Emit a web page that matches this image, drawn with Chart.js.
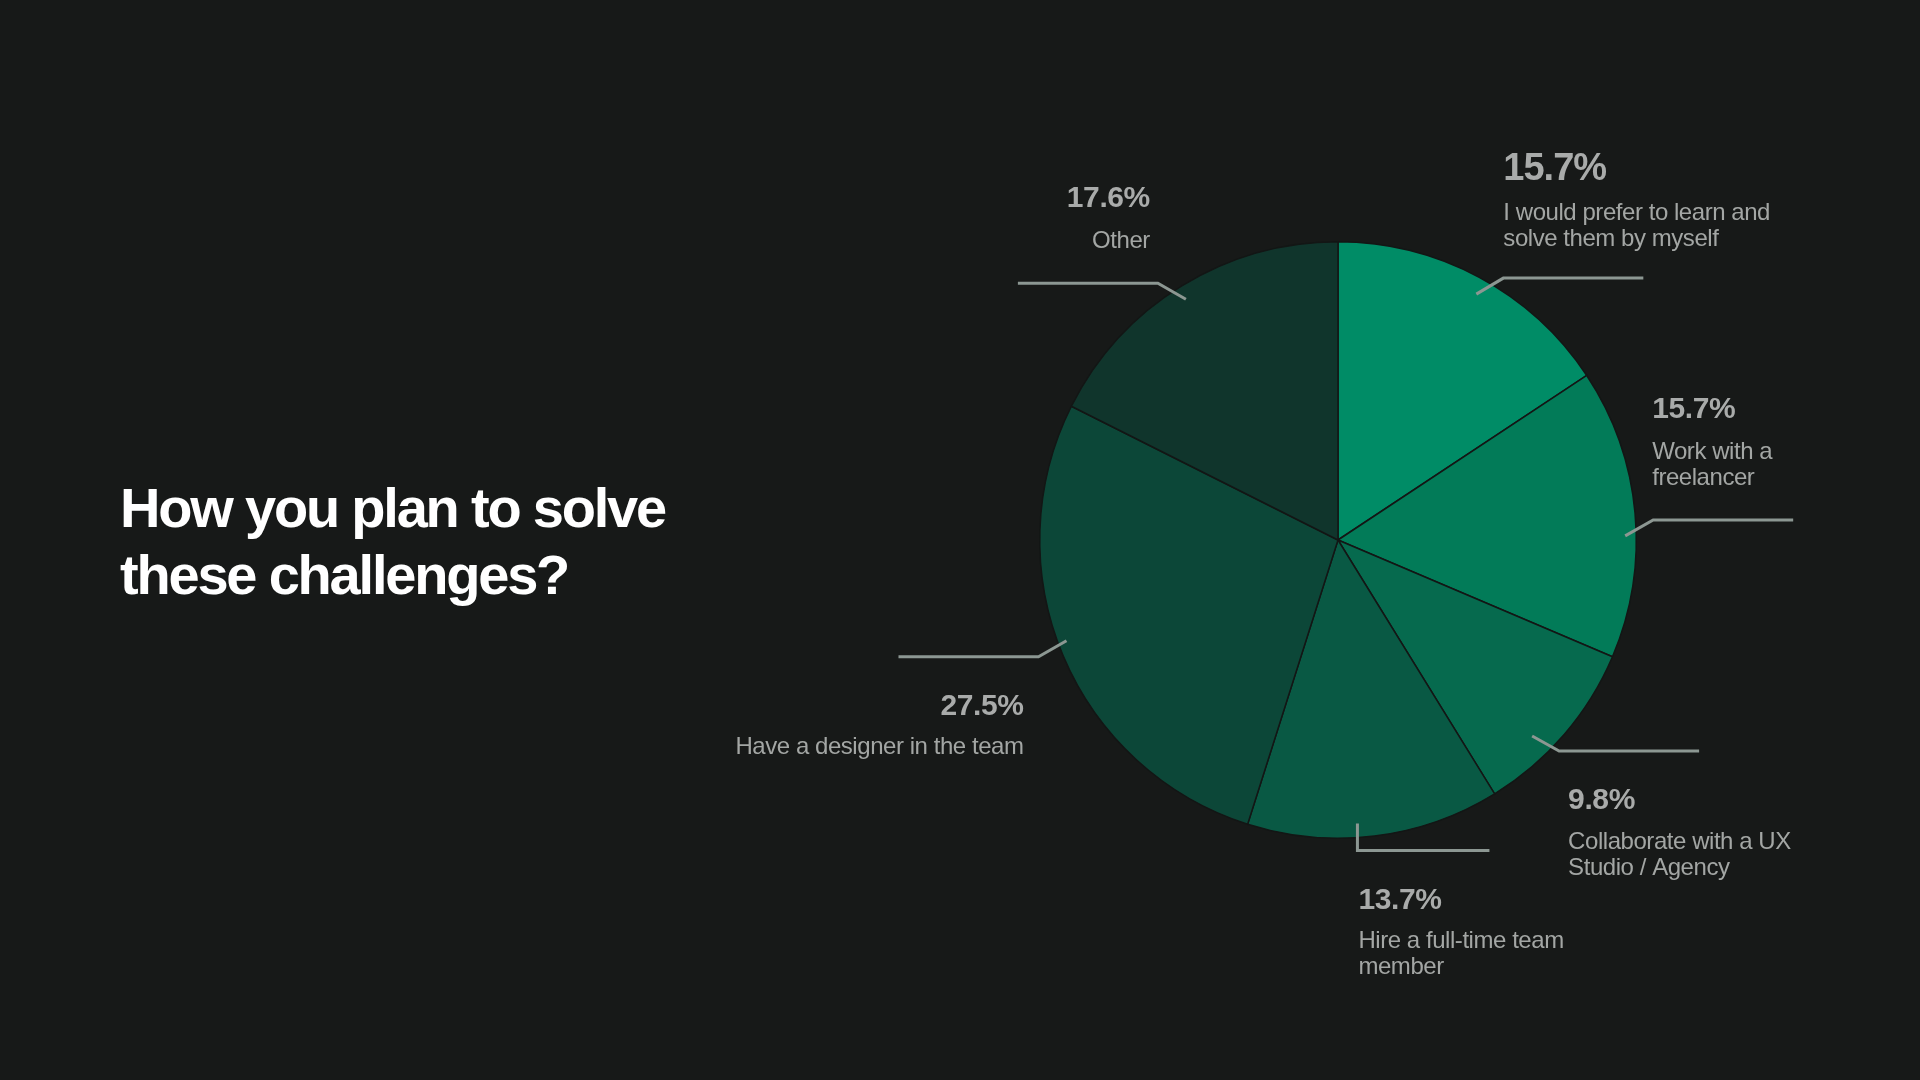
<!DOCTYPE html>
<html>
<head>
<meta charset="utf-8">
<title>How you plan to solve these challenges?</title>
<script src="https://cdn.jsdelivr.net/npm/chart.js@4.4.1/dist/chart.umd.min.js"></script>
<style>
  html, body { margin: 0; padding: 0; background: #171918; }
  body { width: 1920px; height: 1080px; position: relative; overflow: hidden; }
  #title {
    position: absolute; left: 120px; top: 474px; margin: 0;
    font-family: "Liberation Sans", Arial, sans-serif;
    font-weight: bold; font-size: 56px; line-height: 67px;
    letter-spacing: -2.2px; color: #ffffff;
  }
  #chart { position: absolute; left: 0; top: 0; }
</style>
</head>
<body>
<h1 id="title">How you plan to solve<br>these challenges?</h1>
<canvas id="chart" width="1920" height="1080"></canvas>
<script>
// answers, clockwise from 12 o'clock
var categories = [
  "I would prefer to learn and solve them by myself",
  "Work with a freelancer",
  "Collaborate with a UX Studio / Agency",
  "Hire a full-time team member",
  "Have a designer in the team",
  "Other"
];
var percentages = [15.7, 15.7, 9.8, 13.7, 27.5, 17.6];

// how the label text wraps
var labelLines = [
  ["I would prefer to learn and", "solve them by myself"],
  ["Work with a", "freelancer"],
  ["Collaborate with a UX", "Studio / Agency"],
  ["Hire a full-time team", "member"],
  ["Have a designer in the team"],
  ["Other"]
];

var sliceColors = ["#008c66", "#027b58", "#066a4e", "#095944", "#0c4738", "#10352c"];

// leader line style per slice: angle shift (deg), radius factor, elbow, horizontal run, text side
var leaders = [
  { shift: 1.1, rf: 0.946, ex: 27, ey: -16, len: 140, side: "above", tx: 0, big: true },
  { shift: 4.4, rf: 0.963, ex: 28, ey: -16, len: 140, side: "above", tx: -1 },
  { shift: 4.6, rf: 0.925, ex: 27, ey: 15, len: 140, side: "below", tx: 9 },
  { shift: 3.1, rf: 0.953, ex: 0, ey: 27, len: 132, side: "below", tx: 1 },
  { shift: 2.5, rf: 0.971, ex: -28, ey: 16, len: -140, side: "below", tx: -15 },
  { shift: -0.6, rf: 0.955, ex: -28, ey: -16, len: -140, side: "above", tx: -8 }
];

var FONT = '"Liberation Sans", Arial, sans-serif';

var calloutPlugin = {
  id: "callouts",
  afterDatasetsDraw: function (chart) {
    var ctx = chart.ctx;
    var meta = chart.getDatasetMeta(0);
    ctx.save();
    meta.data.forEach(function (arc, i) {
      var p = arc.getProps(["x", "y", "startAngle", "endAngle", "outerRadius"], true);
      var l = leaders[i];
      var a = (p.startAngle + p.endAngle) / 2 + l.shift * Math.PI / 180;
      var r = p.outerRadius * l.rf;
      var sx = p.x + r * Math.cos(a);
      var sy = p.y + r * Math.sin(a);
      var ex = sx + l.ex;
      var ey = sy + l.ey;

      ctx.strokeStyle = "#8c9792";
      ctx.lineWidth = 3;
      ctx.beginPath();
      ctx.moveTo(sx, sy);
      ctx.lineTo(ex, ey);
      ctx.lineTo(ex + l.len, ey);
      ctx.stroke();

      var tx = ex + l.tx;
      ctx.textAlign = l.len > 0 ? "left" : "right";
      ctx.textBaseline = "middle";
      var lines = labelLines[i];
      var pct = percentages[i].toFixed(1) + "%";
      var firstY, pctY;
      if (l.side === "above") {
        firstY = ey - (l.big ? 39 : 42) - (lines.length - 1) * 26;
        pctY = firstY - (l.big ? 44 : 42);
      } else {
        pctY = ey + 50;
        firstY = pctY + 41;
      }

      ctx.fillStyle = "#a9abaa";
      ctx.font = "bold " + (l.big ? 38 : 30) + "px " + FONT;
      ctx.letterSpacing = l.big ? "-1px" : "-0.4px";
      ctx.fillText(pct, tx, pctY);

      ctx.fillStyle = "#a3a6a4";
      ctx.font = "24px " + FONT;
      ctx.letterSpacing = "-0.45px";
      lines.forEach(function (t, k) {
        ctx.fillText(t, tx, firstY + k * 26);
      });
    });
    ctx.restore();
  }
};

var chart = new Chart(document.getElementById("chart").getContext("2d"), {
  type: "pie",
  data: {
    labels: categories,
    datasets: [
      {
        data: percentages,
        backgroundColor: sliceColors,
        borderColor: "#131615",
        borderWidth: 1.5
      }
    ]
  },
  options: {
    responsive: false,
    animation: false,
    layout: { padding: { left: 1039, right: 283, top: 241, bottom: 241 } },
    plugins: {
      legend: { display: false },
      tooltip: { enabled: false }
    }
  },
  plugins: [calloutPlugin]
});
</script>
</body>
</html>
